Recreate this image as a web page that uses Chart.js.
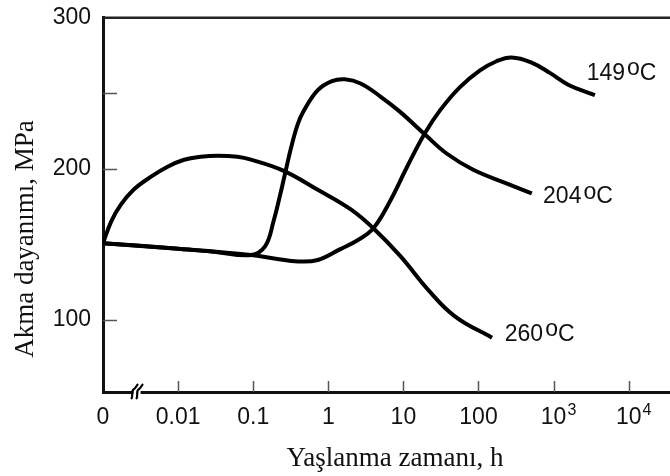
<!DOCTYPE html>
<html>
<head>
<meta charset="utf-8">
<script src="https://cdn.jsdelivr.net/npm/chart.js@4.4.1/dist/chart.umd.min.js"></script>
<style>
    html, body { margin: 0; padding: 0; background: #fff; }
    #wrap { width: 670px; height: 476px; }
</style>
</head>
<body>
<div id="wrap"><canvas id="agingChart"></canvas></div>
<script>
// x values are log10(hours); -3 stands for t = 0 (left of the axis break)
const xTickPos = [-3, -2, -1, 0, 1, 2, 3, 4];
const xTickLabels = ['0', '0.01', '0.1', '1', '10', '100', '10', '10'];
const xTickExponents = ['', '', '', '', '', '', '3', '4'];
const yTickValues = [100, 150, 200, 250, 300];
const yTickLabels = ['100', '', '200', '', '300'];

const seriesNames = ['149', '204', '260'];

const x149 = [-3, -2, -1.03, -0.7, -0.4, -0.14, 0.16, 0.39, 0.6, 0.82, 1.05, 1.28, 1.49, 1.75, 2.02, 2.24, 2.44, 2.7, 2.95, 3.2, 3.55];
const y149 = [150.6, 147, 142.8, 140.3, 138.5, 139.5, 146.7, 152.6, 160.5, 178.3, 201.3, 223, 238.8, 253.9, 265.1, 271.2, 273.7, 270.5, 263.5, 255.5, 248.7];

const x204 = [-3, -2, -1.5, -1.03, -0.84, -0.73, -0.64, -0.57, -0.5, -0.41, -0.33, -0.14, 0.05, 0.22, 0.43, 0.69, 0.96, 1.28, 1.58, 1.93, 2.38, 2.71];
const y204 = [150.6, 147, 144.8, 142.8, 148.7, 165, 182.9, 198, 213, 229, 238, 252, 258, 259.2, 256.5, 248, 237.5, 223, 209.9, 199.3, 190.1, 183.6];

const x260 = [-3, -2.89, -2.76, -2.59, -2.36, -2.14, -1.92, -1.7, -1.47, -1.21, -1.03, -0.6, -0.14, 0.3, 0.6, 0.96, 1.33, 1.69, 2.18];
const y260 = [150.6, 165.1, 176.3, 186.2, 194.7, 201.3, 205.9, 207.9, 208.6, 207.9, 206, 198.7, 186, 173, 160.5, 142, 119.7, 102, 88];

const sansFont = '"Liberation Sans", Arial, sans-serif';
const serifFont = '"Liberation Serif", "Times New Roman", serif';

function toPoints(xs, ys) {
    return xs.map((x, i) => ({ x: x, y: ys[i] }));
}

function lineSet(label, xs, ys) {
    return {
        label: label,
        data: toPoints(xs, ys),
        borderColor: '#000',
        borderWidth: 4,
        pointRadius: 0,
        fill: false,
        tension: 0.4
    };
}

// "149" + raised "o" + "C"
function drawTempLabel(ctx, x, y, num) {
    ctx.font = '23px ' + sansFont;
    ctx.textAlign = 'left';
    ctx.textBaseline = 'alphabetic';
    ctx.fillText(num, x, y);
    let cx = x + ctx.measureText(num).width + 2;
    ctx.fillText('o', cx, y - 4.5);
    cx += ctx.measureText('o').width;
    ctx.fillText('C', cx, y);
}

const decorPlugin = {
    id: 'decor',
    beforeDatasetsDraw(chart) {
        const ctx = chart.ctx;
        const area = chart.chartArea;
        const xs = chart.scales.x;
        const ys = chart.scales.y;
        ctx.save();
        ctx.strokeStyle = '#555';
        ctx.lineWidth = 1.5;
        // inward tick marks
        xTickPos.slice(1).forEach(v => {
            const px = Math.round(xs.getPixelForValue(v)) + 0.5;
            ctx.beginPath();
            ctx.moveTo(px, area.bottom);
            ctx.lineTo(px, area.bottom - 11);
            ctx.stroke();
        });
        yTickValues.slice(0, -1).forEach(v => {
            const py = Math.round(ys.getPixelForValue(v)) + 0.5;
            ctx.beginPath();
            ctx.moveTo(area.left, py);
            ctx.lineTo(area.left + 14, py);
            ctx.stroke();
        });
        // top frame line
        ctx.strokeStyle = '#222';
        ctx.lineWidth = 2.5;
        ctx.beginPath();
        ctx.moveTo(area.left, area.top);
        ctx.lineTo(area.right, area.top);
        ctx.stroke();
        ctx.restore();
    },
    afterDraw(chart) {
        const ctx = chart.ctx;
        const area = chart.chartArea;
        const xs = chart.scales.x;
        const ys = chart.scales.y;
        ctx.save();
        ctx.fillStyle = '#111';

        // exponents of the 10^n tick labels
        ctx.textAlign = 'left';
        ctx.textBaseline = 'alphabetic';
        xTickPos.forEach((v, i) => {
            if (!xTickExponents[i]) return;
            ctx.font = '23px ' + sansFont;
            const w = ctx.measureText(xTickLabels[i]).width;
            ctx.font = '16px ' + sansFont;
            ctx.fillText(xTickExponents[i], xs.getPixelForValue(v) + w / 2 + 1, area.bottom + 23);
        });

        // series labels
        const labelSpots = [[3.44, 259], [2.86, 177], [2.35, 86]];
        seriesNames.forEach((n, i) => {
            drawTempLabel(ctx, xs.getPixelForValue(labelSpots[i][0]), ys.getPixelForValue(labelSpots[i][1]), n);
        });

        // axis break mark
        const bx = xs.getPixelForValue(-2.54);
        const by = area.bottom;
        ctx.fillStyle = '#fff';
        ctx.fillRect(bx - 4, by - 3, 7, 6);
        ctx.strokeStyle = '#000';
        ctx.lineWidth = 2.2;
        [-2.5, 2.5].forEach(off => {
            const cx = bx + off;
            ctx.beginPath();
            ctx.moveTo(cx - 4, by + 7);
            ctx.bezierCurveTo(cx - 1, by + 4, cx - 5, by - 1, cx - 1, by - 3);
            ctx.bezierCurveTo(cx + 1, by - 4, cx + 1, by - 6, cx + 3, by - 8);
            ctx.stroke();
        });

        // axis titles
        ctx.fillStyle = '#111';
        ctx.font = '27px ' + serifFont;
        ctx.textAlign = 'center';
        ctx.textBaseline = 'alphabetic';
        ctx.fillText('Yaşlanma zamanı, h', 395, 466);
        ctx.translate(33, 239);
        ctx.rotate(-Math.PI / 2);
        ctx.fillText('Akma dayanımı, MPa', 0, 0);
        ctx.restore();
    }
};

new Chart(document.getElementById('agingChart'), {
    type: 'line',
    data: {
        datasets: [
            lineSet('149 °C', x149, y149),
            lineSet('204 °C', x204, y204),
            lineSet('260 °C', x260, y260)
        ]
    },
    options: {
        responsive: true,
        maintainAspectRatio: false,
        animation: false,
        layout: { padding: { top: 15, right: 0, bottom: 0, left: 0 } },
        plugins: {
            legend: { display: false },
            tooltip: { enabled: false }
        },
        scales: {
            x: {
                type: 'linear',
                min: -3,
                max: 4.55,
                afterBuildTicks: (scale) => { scale.ticks = xTickPos.map(v => ({ value: v })); },
                afterFit: (scale) => { scale.height = 84; },
                grid: { display: false },
                border: { display: true, color: '#111', width: 3 },
                ticks: {
                    color: '#111',
                    padding: 4,
                    maxRotation: 0,
                    autoSkip: false,
                    font: { family: sansFont, size: 23 },
                    callback: (value, index) => xTickLabels[index]
                }
            },
            y: {
                type: 'linear',
                min: 52,
                max: 300,
                afterBuildTicks: (scale) => { scale.ticks = yTickValues.map(v => ({ value: v })); },
                afterFit: (scale) => { scale.width = 103; },
                grid: { display: false },
                border: { display: true, color: '#111', width: 3 },
                ticks: {
                    color: '#111',
                    padding: 4,
                    autoSkip: false,
                    font: { family: sansFont, size: 23 },
                    callback: (value, index) => yTickLabels[index]
                }
            }
        }
    },
    plugins: [decorPlugin]
});
</script>
</body>
</html>
